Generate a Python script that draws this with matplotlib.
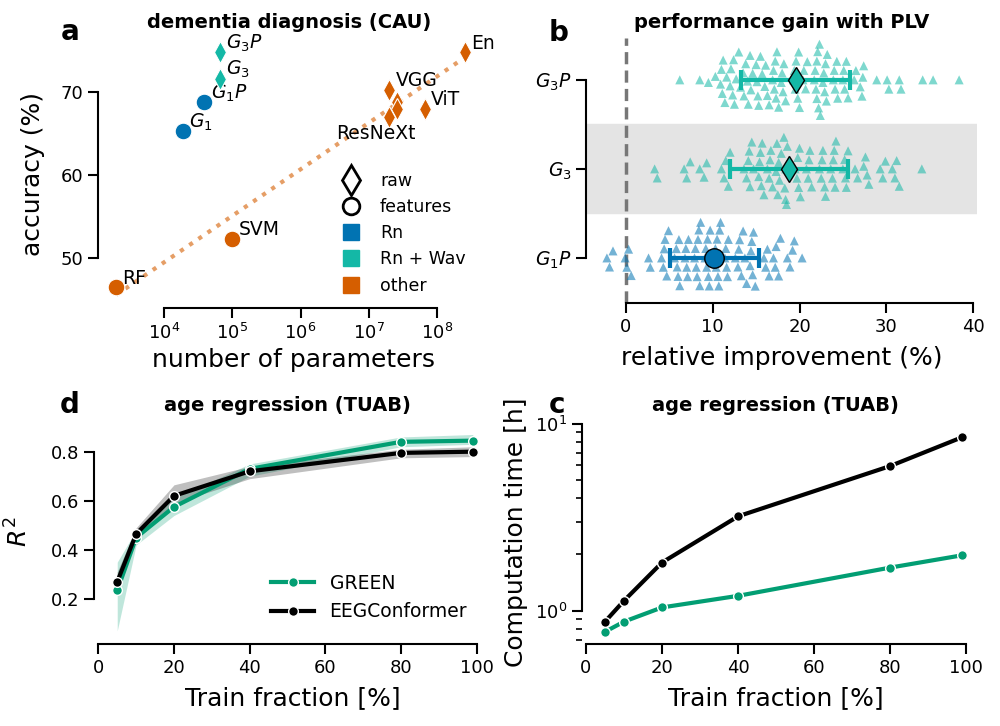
import numpy as np
import pandas as pd
import matplotlib
matplotlib.use("Agg")
import matplotlib.pyplot as plt
from matplotlib.lines import Line2D
import seaborn as sns

# Farben
c_rn = "#0173b2"
c_wav = "#14b8a6"
c_other = "#d55e00"
c_green = "#029e73"

# --- Panel a: Genauigkeit vs. Parameterzahl
a_names = ["RF", "SVM", "$G_1$", "$G_1P$", "$G_3$", "$G_3P$", "VGG", "", "", "ResNeXt", "ViT", "En"]
a_params = [2.0e3, 1.0e5, 1.9e4, 3.9e4, 6.6e4, 6.6e4, 2.0e7, 2.6e7, 2.6e7, 2.0e7, 6.6e7, 2.6e8]
a_acc = [46.5, 52.3, 65.3, 68.8, 71.6, 74.8, 70.3, 68.8, 68.0, 67.0, 68.0, 74.8]
a_group = ["other", "other", "Rn", "Rn", "Rn + Wav", "Rn + Wav",
           "other", "other", "other", "other", "other", "other"]
a_input = ["features", "features", "features", "features", "raw", "raw",
           "raw", "raw", "raw", "raw", "raw", "raw"]

# --- Panel b: relative Verbesserung mit PLV
b_order = ["G3P", "G3", "G1P"]
b_ticklabels = ["$G_3P$", "$G_3$", "$G_1P$"]
g3p_vals = [6.2, 8.5, 9.5, 10.3,
            11.0, 11.2, 10.9, 11.4, 11.1, 11.6,
            12.0, 12.3, 12.5, 12.1, 12.7, 12.4,
            13.2, 13.5, 13.6, 13.0, 13.8,
            14.1, 14.3, 14.6, 14.4, 14.0,
            15.0, 15.2, 15.5, 15.3, 15.1, 15.7,
            16.0, 16.3, 16.1, 16.5,
            17.0, 17.2, 17.4, 17.1, 17.6, 17.3, 16.9,
            18.0, 18.2, 18.4, 18.1, 17.9,
            19.3, 19.6, 19.8, 19.5, 19.9, 19.4, 20.0,
            20.5, 20.7, 20.4, 20.9,
            21.7, 22.0, 22.2, 21.9, 22.1, 22.3, 21.8, 22.4, 22.0,
            22.8, 23.0, 22.9, 23.2, 22.7, 23.1,
            23.9, 24.1, 24.3, 24.0, 24.4,
            25.0, 25.2, 25.4, 25.1, 25.6,
            26.3, 26.5,
            27.0, 27.2, 27.4, 27.3,
            28.9, 30.1, 30.3, 31.5, 31.7, 34.2, 35.4, 38.4]
g3_vals = [3.3, 3.6,
           6.7, 7.0, 7.4,
           8.5, 9.0, 9.3,
           11.0, 11.3, 11.5, 11.8, 12.0,
           13.6, 13.9, 14.1, 14.3, 14.5, 14.7, 14.2,
           15.3, 15.5, 15.7, 15.9, 15.6, 15.4,
           16.3, 16.5, 16.7, 16.9, 16.6,
           17.3, 17.5, 17.7, 17.4, 17.6, 17.9,
           18.2, 18.4, 18.6, 18.3, 18.5, 18.8, 18.4,
           19.5, 19.7, 19.9, 20.1, 19.8, 20.0,
           20.8, 21.0, 21.2, 21.4, 21.1,
           22.3, 22.5, 22.7, 22.9, 22.6, 23.0,
           23.6, 23.8, 24.0, 24.2, 23.9, 24.1,
           25.0, 25.2, 25.4, 25.6, 25.3,
           26.4, 26.7,
           27.4, 27.6, 27.8, 28.0,
           29.3, 29.6, 29.9,
           30.7, 31.0, 31.2, 31.5,
           34.1]
g1p_vals = [-2.2, -1.9, -1.5,
            -0.1, 0.1, 0.3, 0.6,
            2.6, 2.8,
            4.1, 4.3, 4.5, 4.7, 4.9, 4.4,
            5.6, 5.8, 6.0, 6.2, 5.9, 6.1,
            6.8, 7.0, 7.2, 6.9, 7.1,
            7.9, 8.1, 8.3, 8.5, 8.2, 8.0, 8.4, 8.6,
            9.1, 9.3, 9.5, 9.7, 9.4, 9.6, 9.2,
            10.2, 10.4, 10.6, 10.8, 10.3, 10.5, 10.7, 10.9,
            11.4, 11.6, 11.8, 11.5, 11.7,
            12.6, 12.9, 13.1, 13.3, 13.5, 13.0, 13.7, 13.9,
            14.3, 14.5, 14.7, 14.4, 14.6, 14.9,
            15.9, 16.1, 16.3, 16.5,
            17.0, 17.3, 17.6, 17.8, 17.2,
            18.6, 18.9, 19.2, 19.4,
            20.3]
b_mean = [19.55, 18.8, 10.2]
b_sd = [6.25, 6.8, 5.1]

# --- Panel d/c: Altersregression TUAB
train_frac = [5, 10, 20, 40, 80, 99]
green_r2 = [0.235, 0.45, 0.575, 0.73, 0.84, 0.845]
green_lo = [0.07, 0.42, 0.54, 0.70, 0.82, 0.83]
green_hi = [0.35, 0.48, 0.61, 0.75, 0.86, 0.87]
conf_r2 = [0.27, 0.465, 0.62, 0.72, 0.795, 0.80]
conf_lo = [0.24, 0.44, 0.59, 0.69, 0.775, 0.78]
conf_hi = [0.31, 0.49, 0.665, 0.74, 0.81, 0.82]
green_time = [0.77, 0.873, 1.04, 1.20, 1.70, 1.98]
conf_time = [0.873, 1.13, 1.81, 3.2, 5.95, 8.5]
c_minor = [0.7, 0.8, 0.9, 2, 3, 4, 5, 6, 7, 8, 9]

plt.rcParams["font.family"] = "DejaVu Sans"
plt.rcParams["axes.linewidth"] = 1.5
plt.rcParams["xtick.major.width"] = 1.5
plt.rcParams["ytick.major.width"] = 1.5
plt.rcParams["xtick.minor.width"] = 1.2
plt.rcParams["ytick.minor.width"] = 1.2
plt.rcParams["xtick.major.size"] = 7
plt.rcParams["ytick.major.size"] = 7
plt.rcParams["ytick.minor.size"] = 4
plt.rcParams["xtick.labelsize"] = 13
plt.rcParams["ytick.labelsize"] = 13
plt.rcParams["axes.labelsize"] = 18

fig = plt.figure(figsize=(10, 7.26), dpi=100)

def px_rect(l, t, r, b):
    return [l / 1000, 1 - b / 726, (r - l) / 1000, (b - t) / 726]

def clean(ax):
    ax.spines["top"].set_visible(False)
    ax.spines["right"].set_visible(False)

ax_a = fig.add_axes(px_rect(98, 40, 480, 308))
ax_b = fig.add_axes(px_rect(586, 38, 977, 303))
ax_d = fig.add_axes(px_rect(94.3, 420, 480, 644.3))
ax_c = fig.add_axes(px_rect(581.7, 420, 970, 644.3))

# ---------- a
ax = ax_a
col_map = {"Rn": c_rn, "Rn + Wav": c_wav, "other": c_other}
other_x = np.log10([p for p, g in zip(a_params, a_group) if g == "other"])
other_y = [v for v, g in zip(a_acc, a_group) if g == "other"]
k, d0 = np.polyfit(other_x, other_y, 1)
xx = np.linspace(other_x.min(), other_x.max(), 50)
ax.plot(10 ** xx, k * xx + d0 + 0.4, ls=":", lw=3, color=c_other, alpha=0.6, zorder=1)
for name, p, v, g, inp in zip(a_names, a_params, a_acc, a_group, a_input):
    if inp == "raw":
        ax.plot(p, v, marker="d", ms=11, color=col_map[g], mec="white", mew=0.8, ls="none", zorder=3)
    else:
        ax.plot(p, v, marker="o", ms=12, color=col_map[g], mec="white", mew=0.8, ls="none", zorder=3)
    if name == "ResNeXt":
        ax.annotate(name, (p, v), xytext=(-10, -12), textcoords="offset points",
                    ha="center", va="center", fontsize=13.5)
    elif name:
        ax.annotate(name, (p, v), xytext=(4.5, 6.5), textcoords="offset points",
                    ha="left", va="center", fontsize=13.5)
ax.set_xscale("log")
ax.set_xlim(10 ** 3.033, 10 ** 8.63)
ax.set_ylim(43.98, 76.27)
ax.set_xticks([1e4, 1e5, 1e6, 1e7, 1e8])
ax.xaxis.set_minor_locator(matplotlib.ticker.NullLocator())
ax.set_yticks([50, 60, 70])
ax.spines["left"].set_bounds(50, 70)
ax.spines["bottom"].set_bounds(1e4, 1e8)
clean(ax)
ax.set_xlabel("number of parameters")
ax.set_ylabel("accuracy (%)")
ax.xaxis.set_label_coords(0.512, -0.149)
ax.yaxis.set_label_coords(-0.139, 0.5)
ax.set_title("dementia diagnosis (CAU)", fontsize=14, fontweight="bold", pad=9)
handles = [
    Line2D([], [], marker="d", ls="none", mfc="none", mec="black", mew=2, ms=15),
    Line2D([], [], marker="o", ls="none", mfc="none", mec="black", mew=2, ms=12),
    Line2D([], [], marker="s", ls="none", color=c_rn, ms=12),
    Line2D([], [], marker="s", ls="none", color=c_wav, ms=12),
    Line2D([], [], marker="s", ls="none", color=c_other, ms=12),
]
ax.legend(handles, ["raw", "features", "Rn", "Rn + Wav", "other"], frameon=False,
          loc="upper left", bbox_to_anchor=(0.595, 0.54), fontsize=12.5,
          handletextpad=0.65, labelspacing=0.47, borderpad=0)

# ---------- b
ax = ax_b
df_b = pd.DataFrame({
    "value": g3p_vals + g3_vals + g1p_vals,
    "model": ["G3P"] * len(g3p_vals) + ["G3"] * len(g3_vals) + ["G1P"] * len(g1p_vals),
})
ax.axhspan(0.5, 1.5, color="#e4e4e4", zorder=0)
sns.swarmplot(data=df_b, x="value", y="model", hue="model", order=b_order,
              palette={"G3P": c_wav, "G3": c_wav, "G1P": c_rn}, marker="^",
              size=6.5, alpha=0.55, linewidth=0, legend=False, ax=ax, zorder=2)
ax.axvline(0, color="#777777", ls="--", lw=2.5, dashes=(3.5, 1.8), zorder=1)
b_cols = [c_wav, c_wav, c_rn]
b_mark = ["d", "d", "o"]
b_ms = [13.5, 13.5, 14]
for i, (m, s) in enumerate(zip(b_mean, b_sd)):
    ax.errorbar(m, i, xerr=s, fmt="none", ecolor=b_cols[i], elinewidth=3,
                capsize=7, capthick=3, zorder=4)
    ax.plot(m, i, marker=b_mark[i], ms=b_ms[i], color=b_cols[i], mec="black", mew=1, zorder=5)
ax.set_xlim(-4.61, 40.46)
ax.set_ylim(2.506, -0.47)
ax.set_yticks([0, 1, 2])
ax.set_yticklabels(b_ticklabels, fontsize=13.5)
ax.set_xticks([0, 10, 20, 30, 40])
ax.spines["left"].set_bounds(0, 2)
ax.spines["bottom"].set_bounds(0, 40)
clean(ax)
ax.set_ylabel("")
ax.set_xlabel("relative improvement (%)")
ax.xaxis.set_label_coords(0.5, -0.162)
ax.set_title("performance gain with PLV", fontsize=14, fontweight="bold", pad=7)

# ---------- d
ax = ax_d
ax.fill_between(train_frac, green_lo, green_hi, color=c_green, alpha=0.25, lw=0)
ax.fill_between(train_frac, conf_lo, conf_hi, color="black", alpha=0.25, lw=0)
ax.plot(train_frac, green_r2, color=c_green, lw=3, marker="o", ms=7, mec="white", mew=1, label="GREEN")
ax.plot(train_frac, conf_r2, color="black", lw=3, marker="o", ms=7, mec="white", mew=1, label="EEGConformer")
ax.set_xlim(-1.06, 100.9)
ax.set_ylim(0.0155, 0.929)
ax.set_xticks([0, 20, 40, 60, 80, 100])
ax.set_yticks([0.2, 0.4, 0.6, 0.8])
ax.spines["left"].set_bounds(0.2, 0.8)
ax.spines["bottom"].set_bounds(0, 100)
clean(ax)
ax.set_xlabel("Train fraction [%]")
ax.set_ylabel("$R^2$")
ax.xaxis.set_label_coords(0.515, -0.186)
ax.yaxis.set_label_coords(-0.159, 0.5)
ax.set_title("age regression (TUAB)", fontsize=14, fontweight="bold", pad=6.5)
ax.legend(frameon=False, loc="upper left", bbox_to_anchor=(0.435, 0.355), fontsize=13.5,
          handlelength=2.25, handletextpad=0.85, labelspacing=0.5, borderpad=0)

# ---------- c
ax = ax_c
ax.plot(train_frac, green_time, color=c_green, lw=3, marker="o", ms=7, mec="white", mew=1)
ax.plot(train_frac, conf_time, color="black", lw=3, marker="o", ms=7, mec="white", mew=1)
ax.set_yscale("log")
ax.set_xlim(-1.13, 101)
ax.set_ylim(0.66, 10.5)
ax.set_yticks([1, 10])
ax.set_yticks(c_minor, minor=True)
ax.yaxis.set_minor_formatter(matplotlib.ticker.NullFormatter())
ax.tick_params(axis="y", which="minor", length=4, width=1.2)
ax.set_xticks([0, 20, 40, 60, 80, 100])
ax.spines["left"].set_bounds(1, 10)
ax.spines["bottom"].set_bounds(0, 100)
clean(ax)
ax.set_xlabel("Train fraction [%]")
ax.set_ylabel("Computation time [h]")
ax.xaxis.set_label_coords(0.5, -0.186)
ax.yaxis.set_label_coords(-0.138, 0.5)
ax.set_title("age regression (TUAB)", fontsize=14, fontweight="bold", pad=6.5)

# Panelbuchstaben
for letter, x, y in [("a", 70, 40), ("b", 559, 41), ("d", 70, 413), ("c", 557, 413)]:
    fig.text(x / 1000, 1 - y / 726, letter, fontsize=20, fontweight="bold",
             ha="center", va="baseline")

fig.savefig("out.png", dpi=100)
